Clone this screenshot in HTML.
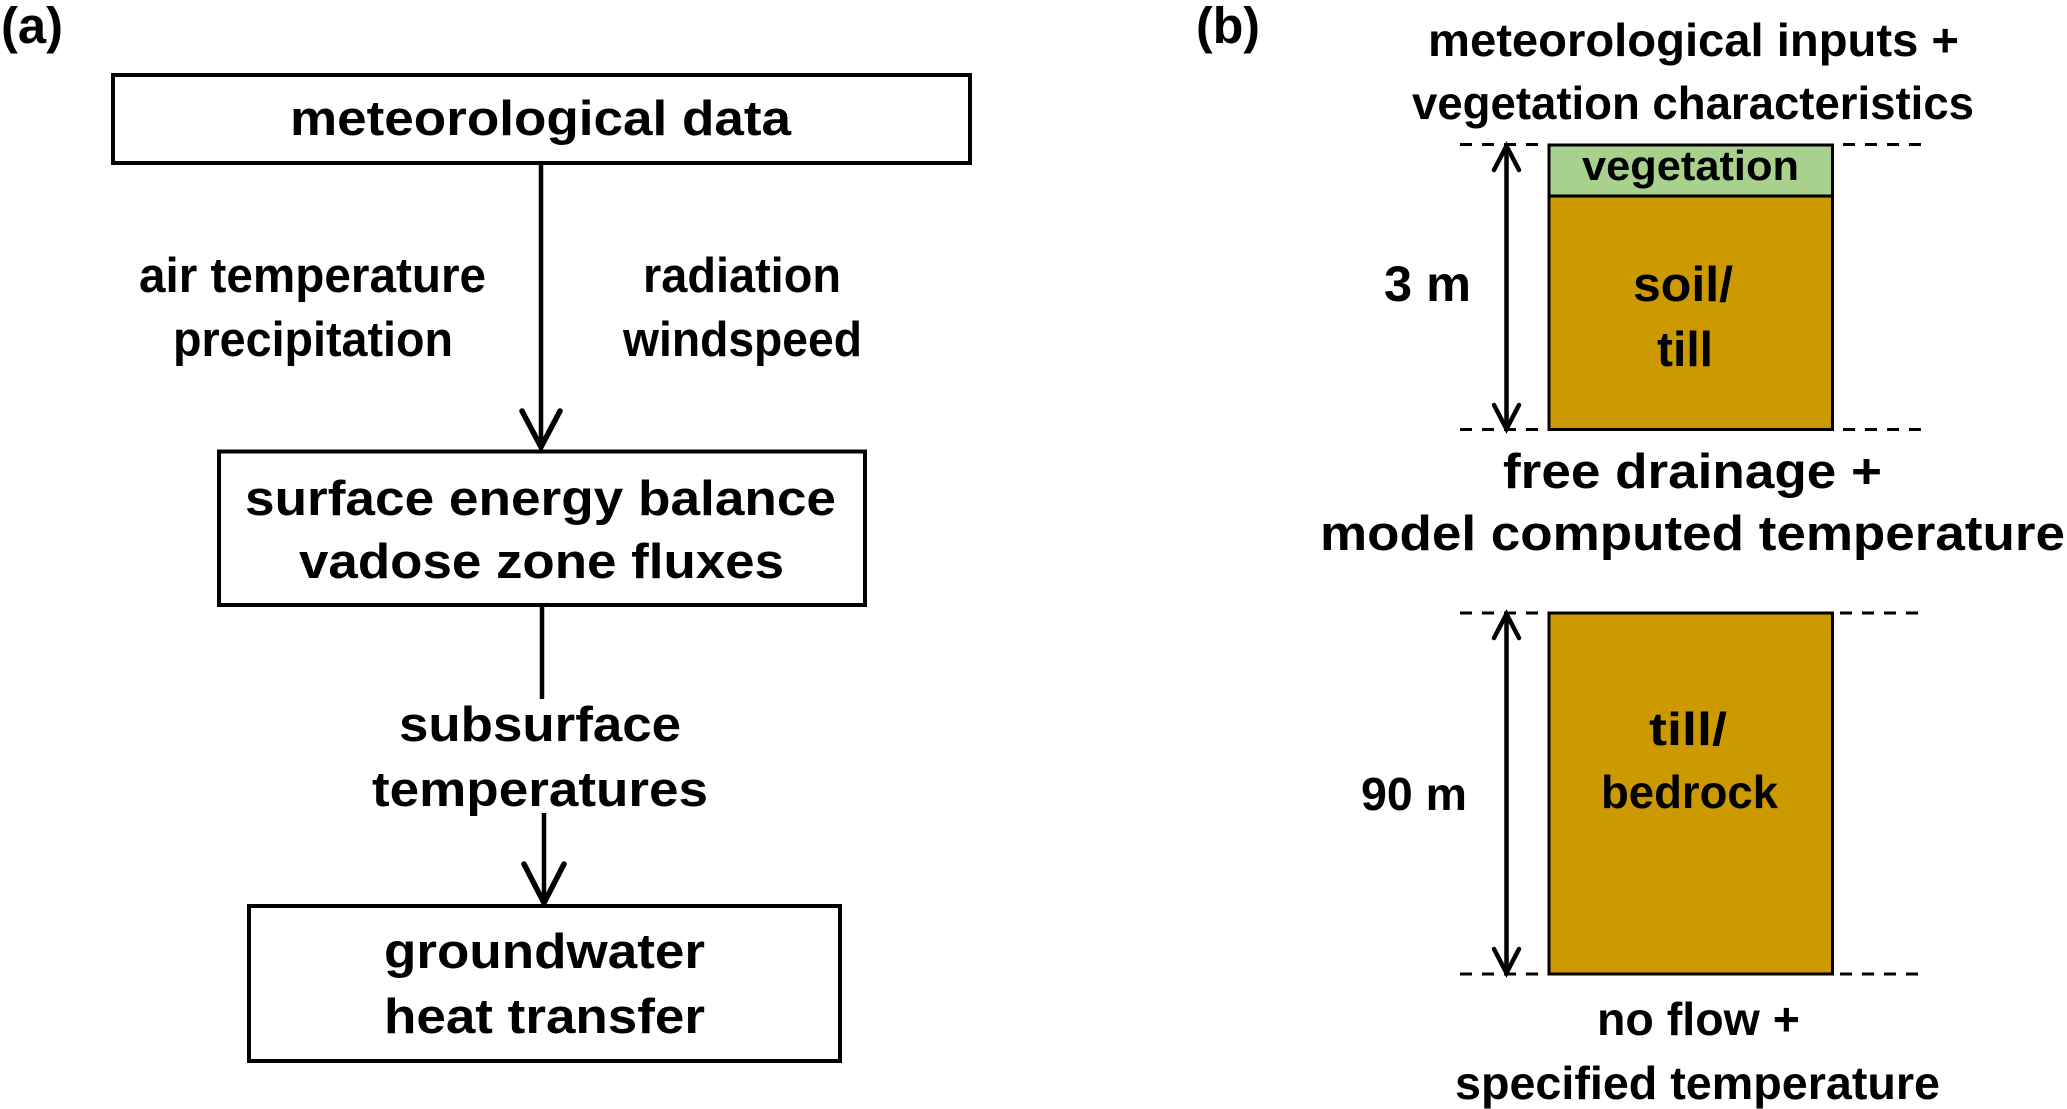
<!DOCTYPE html>
<html>
<head>
<meta charset="utf-8">
<style>
  html, body { margin: 0; padding: 0; background: #ffffff; }
  svg { display: block; }
  text { font-family: "Liberation Sans", Arial, sans-serif; font-weight: bold; fill: #000; }
</style>
</head>
<body>
<svg width="2067" height="1109" viewBox="0 0 2067 1109" xmlns="http://www.w3.org/2000/svg">
  <rect x="0" y="0" width="2067" height="1109" fill="#ffffff"/>

  <!-- ===== Panel (a) ===== -->
  <text x="1" y="43" font-size="51" textLength="62" lengthAdjust="spacingAndGlyphs">(a)</text>

  <!-- Box 1 -->
  <rect x="113" y="75" width="857" height="88" fill="#fff" stroke="#000" stroke-width="4"/>
  <text x="290" y="135" font-size="49" textLength="501" lengthAdjust="spacingAndGlyphs">meteorological data</text>

  <!-- Arrow 1 -->
  <line x1="541" y1="163" x2="541" y2="446" stroke="#000" stroke-width="4.5"/>
  <polyline points="522,411 541,447 560,411" fill="none" stroke="#000" stroke-width="5.5" stroke-linecap="round" stroke-linejoin="miter"/>

  <text x="139" y="292" font-size="49" textLength="347" lengthAdjust="spacingAndGlyphs">air temperature</text>
  <text x="173" y="356" font-size="49" textLength="280" lengthAdjust="spacingAndGlyphs">precipitation</text>
  <text x="643" y="292" font-size="49" textLength="198" lengthAdjust="spacingAndGlyphs">radiation</text>
  <text x="623" y="356" font-size="49" textLength="239" lengthAdjust="spacingAndGlyphs">windspeed</text>

  <!-- Box 2 -->
  <rect x="219" y="451.5" width="646" height="153.5" fill="#fff" stroke="#000" stroke-width="4"/>
  <text x="245" y="515" font-size="49" textLength="591" lengthAdjust="spacingAndGlyphs">surface energy balance</text>
  <text x="299" y="578" font-size="49" textLength="485" lengthAdjust="spacingAndGlyphs">vadose zone fluxes</text>

  <!-- Arrow 2 -->
  <line x1="542" y1="605" x2="542" y2="699" stroke="#000" stroke-width="4.5"/>
  <text x="399" y="741" font-size="49" textLength="282" lengthAdjust="spacingAndGlyphs">subsurface</text>
  <text x="372" y="806" font-size="49" textLength="336" lengthAdjust="spacingAndGlyphs">temperatures</text>
  <line x1="544" y1="813" x2="544" y2="902" stroke="#000" stroke-width="4.5"/>
  <polyline points="524,864 544,903 564,864" fill="none" stroke="#000" stroke-width="5.5" stroke-linecap="round"/>

  <!-- Box 3 -->
  <rect x="249" y="906" width="591" height="155" fill="#fff" stroke="#000" stroke-width="4"/>
  <text x="384" y="968" font-size="49" textLength="321" lengthAdjust="spacingAndGlyphs">groundwater</text>
  <text x="384" y="1033" font-size="49" textLength="321" lengthAdjust="spacingAndGlyphs">heat transfer</text>

  <!-- ===== Panel (b) ===== -->
  <text x="1196" y="43" font-size="51" textLength="64" lengthAdjust="spacingAndGlyphs">(b)</text>

  <text x="1428" y="56" font-size="46" textLength="531" lengthAdjust="spacingAndGlyphs">meteorological inputs  +</text>
  <text x="1412" y="119" font-size="46" textLength="562" lengthAdjust="spacingAndGlyphs">vegetation characteristics</text>

  <!-- Upper column -->
  <rect x="1549" y="145" width="283.5" height="51" fill="#a9d18e"/>
  <rect x="1549" y="196" width="283.5" height="233.5" fill="#cc9900"/>
  <rect x="1549" y="145" width="283.5" height="284.5" fill="none" stroke="#000" stroke-width="3"/>
  <line x1="1549" y1="196" x2="1832.5" y2="196" stroke="#000" stroke-width="3"/>
  <text x="1582" y="180" font-size="42" textLength="217" lengthAdjust="spacingAndGlyphs">vegetation</text>
  <text x="1633" y="301" font-size="49" textLength="100" lengthAdjust="spacingAndGlyphs">soil/</text>
  <text x="1657" y="366" font-size="49" textLength="56" lengthAdjust="spacingAndGlyphs">till</text>

  <!-- dashed lines -->
  <g stroke="#000" stroke-width="3" stroke-dasharray="12 10">
    <line x1="1460" y1="144.5" x2="1547" y2="144.5"/>
    <line x1="1843" y1="144.5" x2="1930" y2="144.5"/>
    <line x1="1460" y1="429.5" x2="1547" y2="429.5"/>
    <line x1="1843" y1="429.5" x2="1930" y2="429.5"/>
    <line x1="1460" y1="613" x2="1547" y2="613"/>
    <line x1="1840" y1="613" x2="1927" y2="613"/>
    <line x1="1460" y1="974" x2="1547" y2="974"/>
    <line x1="1840" y1="974" x2="1927" y2="974"/>
  </g>

  <!-- 3 m arrow -->
  <line x1="1506.5" y1="147" x2="1506.5" y2="427" stroke="#000" stroke-width="4.5"/>
  <polyline points="1494,170 1506.5,146 1519,170" fill="none" stroke="#000" stroke-width="4.5" stroke-linecap="round"/>
  <polyline points="1494,405 1506.5,429 1519,405" fill="none" stroke="#000" stroke-width="4.5" stroke-linecap="round"/>
  <text x="1384" y="301" font-size="50" textLength="87" lengthAdjust="spacingAndGlyphs">3 m</text>

  <text x="1503" y="488" font-size="49" textLength="379" lengthAdjust="spacingAndGlyphs">free drainage +</text>
  <text x="1320" y="550" font-size="49" textLength="745" lengthAdjust="spacingAndGlyphs">model computed temperature</text>

  <!-- Lower column -->
  <rect x="1549" y="613" width="283.5" height="361" fill="#cc9900" stroke="#000" stroke-width="3"/>
  <text x="1649" y="745" font-size="46" textLength="78" lengthAdjust="spacingAndGlyphs">till/</text>
  <text x="1601" y="808" font-size="46" textLength="177" lengthAdjust="spacingAndGlyphs">bedrock</text>

  <!-- 90 m arrow -->
  <line x1="1506.5" y1="615" x2="1506.5" y2="972" stroke="#000" stroke-width="4.5"/>
  <polyline points="1494,638 1506.5,614 1519,638" fill="none" stroke="#000" stroke-width="4.5" stroke-linecap="round"/>
  <polyline points="1494,949 1506.5,973 1519,949" fill="none" stroke="#000" stroke-width="4.5" stroke-linecap="round"/>
  <text x="1361" y="810" font-size="46" textLength="106" lengthAdjust="spacingAndGlyphs">90 m</text>

  <text x="1597" y="1035" font-size="46" textLength="203" lengthAdjust="spacingAndGlyphs">no flow +</text>
  <text x="1455" y="1099" font-size="46" textLength="485" lengthAdjust="spacingAndGlyphs">specified temperature</text>
</svg>
</body>
</html>
